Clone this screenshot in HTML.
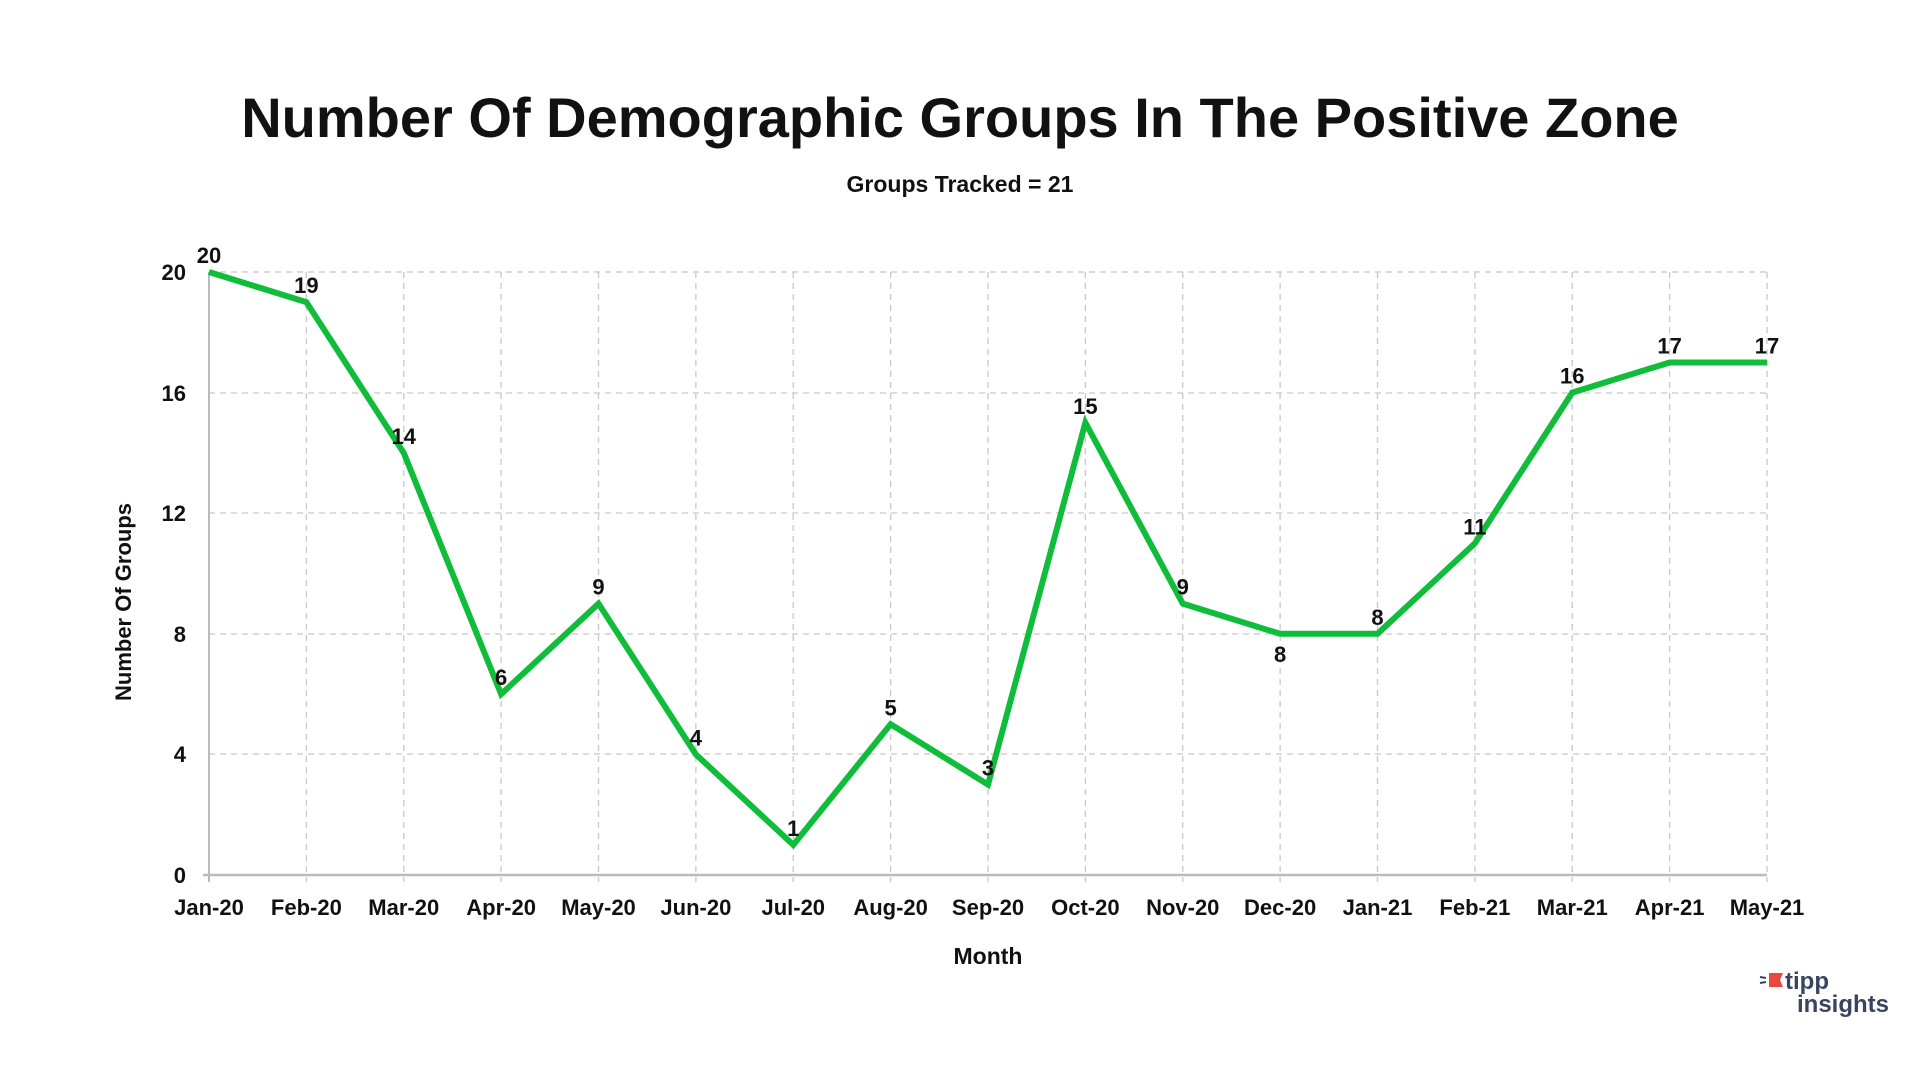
<!DOCTYPE html>
<html><head><meta charset="utf-8"><style>
body{margin:0;background:#fff;width:1920px;height:1080px;overflow:hidden;font-family:"Liberation Sans",sans-serif}
</style></head><body>
<svg width="1920" height="1080" xmlns="http://www.w3.org/2000/svg" font-family="Liberation Sans, sans-serif">
<text x="960" y="137" text-anchor="middle" font-size="56" font-weight="bold" fill="#111">Number Of Demographic Groups In The Positive Zone</text>
<text x="960" y="192" text-anchor="middle" font-size="23" font-weight="bold" fill="#111">Groups Tracked = 21</text>
<g stroke="#c8c8c8" stroke-width="1.3" stroke-dasharray="6,5">
<line x1="209" y1="272" x2="1767" y2="272"/><line x1="209" y1="393" x2="1767" y2="393"/><line x1="209" y1="513" x2="1767" y2="513"/><line x1="209" y1="634" x2="1767" y2="634"/><line x1="209" y1="754" x2="1767" y2="754"/>
</g>
<g id="vl" stroke="#c8c8c8" stroke-width="1.3" stroke-dasharray="6,5"></g>
<line x1="209" y1="272" x2="209" y2="882" stroke="#bbb" stroke-width="2"/>
<line x1="203" y1="875" x2="1767" y2="875" stroke="#bbb" stroke-width="2.5"/>
<g font-size="22" font-weight="bold" fill="#111" text-anchor="end">
<text x="186" y="280">20</text><text x="186" y="401">16</text><text x="186" y="521">12</text><text x="186" y="642">8</text><text x="186" y="762">4</text><text x="186" y="883">0</text>
</g>
<text transform="translate(131,602) rotate(-90)" text-anchor="middle" font-size="22" font-weight="bold" fill="#111">Number Of Groups</text>
<text x="988" y="964" text-anchor="middle" font-size="23" font-weight="bold" fill="#111">Month</text>
<g id="xl" font-size="22" font-weight="bold" fill="#111" text-anchor="middle"></g>
<polyline id="ln" fill="none" stroke="#10bd3a" stroke-width="6" stroke-linejoin="miter"/>
<g id="dl" font-size="22" font-weight="bold" fill="#111" text-anchor="middle"></g>
<g transform="translate(1763,973)">
<path d="M6 0 L20 0 L17 7 L20 14 L6 14 Z" fill="#e8483f"/>
<line x1="-3" y1="4" x2="3" y2="5" stroke="#3a4460" stroke-width="2"/><line x1="-3" y1="10" x2="3" y2="9" stroke="#3a4460" stroke-width="2"/>
<text x="22" y="16" font-size="24" font-weight="bold" fill="#3a4460">tipp</text>
<text x="34" y="39" font-size="24" font-weight="bold" fill="#3a4460">insights</text>
</g>
</svg>
<script>
var ns="http://www.w3.org/2000/svg";
var m=["Jan-20","Feb-20","Mar-20","Apr-20","May-20","Jun-20","Jul-20","Aug-20","Sep-20","Oct-20","Nov-20","Dec-20","Jan-21","Feb-21","Mar-21","Apr-21","May-21"];
var d=[20,19,14,6,9,4,1,5,3,15,9,8,8,11,16,17,17];
var pts=[];
for(var i=0;i<17;i++){var x=209+i*97.375,y=875-d[i]*30.15;pts.push(x+","+y);
if(i>0){var l=document.createElementNS(ns,"line");l.setAttribute("x1",x);l.setAttribute("x2",x);l.setAttribute("y1",272);l.setAttribute("y2",882);document.getElementById("vl").appendChild(l);}
var t=document.createElementNS(ns,"text");t.setAttribute("x",x);t.setAttribute("y",915);t.textContent=m[i];document.getElementById("xl").appendChild(t);
var u=document.createElementNS(ns,"text");u.setAttribute("x",x);u.setAttribute("y",i==11?y+28:y-9);u.textContent=d[i];document.getElementById("dl").appendChild(u);}
document.getElementById("ln").setAttribute("points",pts.join(" "));
</script>
</body></html>
